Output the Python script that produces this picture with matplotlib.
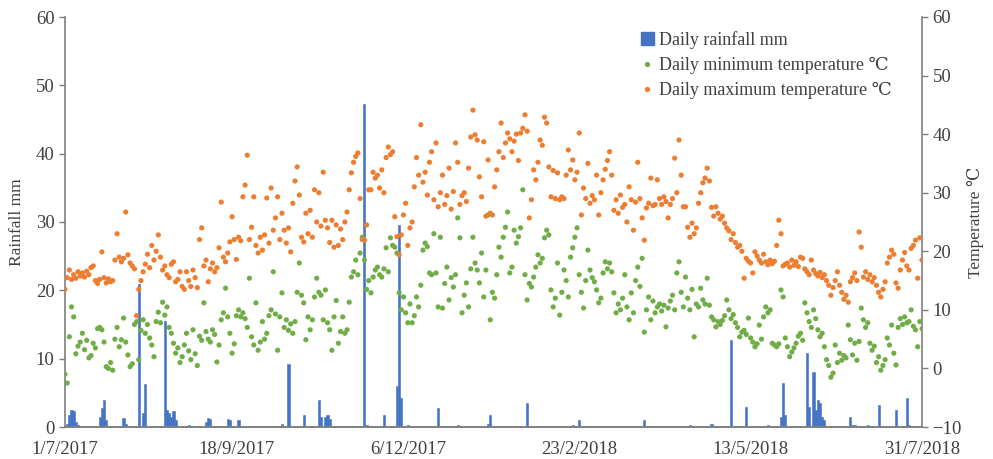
import matplotlib
matplotlib.use("Agg")
import matplotlib.pyplot as plt
import numpy as np
import pandas as pd
from matplotlib.lines import Line2D
from matplotlib.patches import Patch

# ---- data -------------------------------------------------------------
start_date = "2017-07-01"

# daily maximum temperature (deg C), one value per day from 1 Jul 2017
tmax = [
    13.5, 15.5, 16.8, 15.2, 16.0, 15.4, 16.5, 15.8, 16.3, 15.6,
    16.6, 16.0, 17.2, 17.5, 15.0, 14.5, 15.2, 19.9, 15.5, 14.6,
    15.3, 14.8, 15.0, 18.5, 23.0, 19.0, 18.2, 18.8, 26.7, 19.4,
    18.0, 17.5, 17.0, 9.0, 13.5, 15.0, 16.5, 17.8, 19.5, 17.2,
    21.0, 18.5, 20.0, 22.8, 19.0, 16.8, 17.5, 16.0, 15.5, 17.8,
    18.2, 14.8, 15.2, 16.5, 14.0, 13.5, 16.5, 15.0, 14.0, 16.8,
    15.5, 13.8, 22.0, 24.0, 17.5, 18.5, 14.8, 17.0, 18.0, 16.5,
    17.2, 20.6, 28.4, 19.0, 18.2, 19.7, 21.6, 25.9, 22.0, 18.6,
    22.4, 21.8, 29.3, 31.3, 36.4, 22.0, 24.1, 29.3, 21.0, 19.7,
    22.4, 20.2, 22.8, 29.1, 21.4, 30.8, 23.6, 25.7, 29.3, 22.0,
    26.5, 23.6, 21.4, 24.0, 19.9, 28.2, 32.0, 34.4, 29.6, 22.4,
    21.6, 26.5, 23.0, 27.0, 22.4, 30.5, 25.0, 30.0, 24.3, 33.5,
    25.3, 24.0, 21.5, 25.3, 20.7, 24.5, 21.0, 23.8, 22.0, 25.0,
    26.7, 30.5, 33.4, 35.2, 36.2, 36.8, 29.0, 22.0, 21.9, 24.5,
    30.5, 30.5, 33.5, 32.5, 33.0, 30.8, 33.9, 30.0, 36.0, 37.8,
    36.5, 37.0, 25.9, 22.5, 19.4, 22.8, 26.2, 28.2, 21.0, 24.0,
    25.0, 31.0, 36.0, 33.0, 41.6, 31.8, 33.5, 29.6, 35.2, 37.0,
    28.8, 38.5, 27.6, 30.0, 33.0, 28.0, 29.5, 34.2, 27.2, 30.2,
    38.5, 35.2, 28.0, 29.5, 30.0, 28.5, 34.2, 39.5, 44.1, 39.9,
    39.0, 32.7, 29.3, 38.7, 26.0, 35.6, 26.5, 26.2, 31.0, 33.9,
    37.0, 41.9, 36.0, 38.5, 40.2, 39.2, 37.0, 38.8, 40.0, 35.5,
    40.2, 41.0, 43.3, 40.5, 25.7, 28.8, 33.9, 32.2, 35.2, 39.0,
    38.1, 42.9, 41.9, 34.4, 29.3, 33.8, 29.0, 33.4, 28.8, 29.3,
    29.0, 33.0, 37.3, 33.9, 35.6, 32.2, 33.5, 40.2, 26.2, 30.8,
    29.0, 35.0, 28.2, 29.5, 28.8, 33.0, 26.2, 30.0, 32.2, 34.0,
    35.5, 37.0, 33.0, 27.0, 28.8, 26.5, 29.6, 27.5, 28.0, 25.0,
    31.0, 28.8, 23.6, 28.4, 35.2, 29.0, 25.7, 21.9, 27.4, 28.2,
    32.5, 27.8, 28.0, 32.2, 29.0, 28.0, 29.3, 28.5, 25.7, 28.0,
    29.0, 35.9, 30.0, 39.0, 33.0, 27.6, 27.6, 24.1, 22.4, 24.8,
    23.0, 24.0, 28.2, 30.0, 31.7, 32.5, 34.2, 32.0, 27.5, 26.0,
    27.6, 26.5, 25.5, 26.0, 24.8, 24.0, 23.5, 22.0, 23.0, 21.5,
    20.7, 21.0, 20.0, 15.4, 18.8, 18.3, 18.0, 16.3, 19.9, 19.2,
    18.5, 18.0, 19.5, 18.2, 17.7, 18.5, 17.9, 18.3, 21.0, 25.3,
    23.0, 17.5, 17.8, 18.0, 17.3, 18.5, 17.6, 18.2, 17.4, 19.0,
    18.8, 17.0, 16.5, 16.0, 18.5, 16.8, 16.2, 15.8, 16.4, 15.5,
    16.0, 15.0, 14.2, 12.5, 13.8, 15.0, 16.5, 14.2, 13.0, 11.8,
    12.5, 11.3, 14.8, 15.5, 16.3, 15.0, 23.3, 20.7, 15.6, 16.5,
    15.2, 16.0, 14.8, 15.5, 14.2, 13.0, 12.2, 13.5, 14.8, 18.0,
    19.0, 20.2, 19.5, 14.6, 13.7, 16.8, 18.5, 19.8, 17.5, 16.8,
    20.5, 21.0, 21.9, 15.4, 22.3, 18.5,
]

# daily minimum temperature (deg C)
tmin = [
    -1.0, -2.5, 5.4, 10.5, 8.8, 2.5, 3.8, 4.5, 6.0, 3.2,
    4.8, 1.8, 2.2, 4.3, 3.5, 6.8, 7.0, 6.6, 4.5, 0.3,
    0.0, 1.0, -0.3, 5.0, 7.0, 3.7, 4.9, 8.6, 4.5, 2.3,
    0.3, 0.8, 7.5, 8.0, 1.5, 6.5, 8.3, 6.0, 7.5, 5.2,
    4.0, 2.0, 8.0, 9.6, 7.8, 11.3, 9.1, 10.5, 7.0, 6.0,
    4.3, 2.6, 3.5, 1.0, 2.0, 4.0, 6.0, 3.0, 1.5, 6.6,
    2.5, 0.5, 5.5, 4.8, 11.2, 6.3, 5.0, 4.5, 6.6, 5.8,
    1.1, 4.0, 8.3, 9.5, 13.7, 8.8, 6.0, 2.6, 4.2, 9.0,
    10.0, 8.8, 9.5, 8.5, 7.0, 15.4, 5.4, 4.0, 11.2, 3.1,
    4.5, 8.0, 5.0, 6.0, 9.0, 10.0, 16.5, 9.3, 3.1, 8.8,
    12.9, 7.0, 8.3, 6.5, 7.6, 6.0, 8.0, 13.0, 18.0, 12.5,
    11.2, 4.9, 8.8, 6.6, 8.3, 12.2, 15.4, 13.0, 12.5, 8.3,
    13.4, 7.8, 6.6, 3.1, 8.8, 11.6, 4.3, 6.3, 8.8, 6.0,
    6.6, 11.3, 15.6, 16.5, 18.5, 16.0, 19.7, 22.4, 18.5, 13.5,
    15.0, 12.9, 15.6, 16.8, 17.3, 16.0, 15.6, 17.0, 20.6, 16.5,
    22.3, 21.0, 20.7, 19.7, 12.9, 10.0, 12.2, 9.5, 7.8, 11.0,
    7.8, 9.0, 12.2, 10.5, 14.2, 20.2, 21.4, 20.8, 16.3, 16.0,
    23.0, 16.3, 10.5, 22.4, 10.3, 14.5, 17.3, 11.7, 15.5, 13.9,
    16.0, 25.7, 22.3, 9.5, 12.5, 14.6, 10.5, 17.0, 22.4, 18.0,
    16.8, 14.6, 19.7, 12.2, 16.8, 26.2, 8.3, 13.0, 12.0, 16.0,
    20.7, 19.0, 22.4, 24.1, 26.7, 16.3, 17.3, 23.6, 21.4, 22.5,
    24.0, 30.5, 16.0, 11.7, 14.5, 13.9, 15.6, 17.3, 19.4, 18.0,
    18.8, 22.3, 23.6, 22.8, 13.4, 10.5, 12.0, 18.0, 9.1, 13.0,
    16.8, 15.0, 12.2, 19.0, 20.6, 22.4, 24.0, 16.0, 13.0, 10.3,
    15.0, 20.2, 16.8, 15.5, 14.8, 13.4, 11.2, 12.0, 16.3, 18.2,
    17.0, 18.0, 16.5, 12.9, 9.5, 11.0, 10.0, 12.0, 16.0, 10.5,
    8.3, 12.9, 9.5, 15.0, 17.3, 14.0, 18.8, 6.2, 10.0, 12.2,
    8.3, 11.5, 9.5, 10.5, 11.0, 9.8, 10.8, 7.1, 10.3, 11.5,
    12.5, 10.0, 16.3, 18.2, 13.0, 10.5, 15.6, 12.0, 10.0, 13.5,
    5.4, 11.0, 10.5, 13.7, 11.7, 11.0, 15.4, 10.8, 8.8, 8.3,
    7.1, 8.0, 7.5, 8.2, 9.0, 11.7, 10.0, 8.5, 9.2, 7.8,
    7.0, 5.4, 6.2, 6.5, 5.8, 8.6, 5.2, 4.5, 3.7, 4.2,
    7.4, 5.0, 8.8, 10.5, 9.5, 10.0, 4.3, 4.0, 3.7, 4.2,
    13.4, 12.2, 5.2, 3.7, 2.0, 2.8, 3.5, 4.3, 5.5, 6.0,
    4.8, 11.2, 9.5, 8.0, 7.0, 10.0, 8.5, 6.6, 5.4, 6.0,
    3.7, 1.5, 0.5, -1.5, -0.8, 4.0, 1.0, 2.6, 1.4, 2.2,
    1.8, 7.4, 4.9, 2.3, 4.3, 1.4, 4.6, 10.3, 8.3, 7.0,
    7.8, 4.3, 3.1, 3.8, 1.0, 2.0, -0.3, 0.5, 1.5, 5.2,
    4.0, 7.4, 2.6, 0.6, 7.0, 8.5, 7.5, 8.8, 7.8, 8.0,
    10.0, 7.2, 6.6, 3.7, 8.0, 6.8,
]

# rain days (day number counted from 1 Jul 2017) and daily rainfall (mm)
rain_day = [1, 2, 3, 4, 5, 6, 7, 16, 17, 18, 19, 27, 28, 34, 36, 37,
            46, 47, 48, 49, 50, 51, 57, 65, 66, 67, 75, 76, 80, 100, 103,
            110, 117, 118, 120, 121, 122, 138, 139, 147, 153, 154, 155,
            158, 172, 181, 195, 196, 204, 213, 234, 237, 267, 288, 298,
            307, 314, 324, 330, 331, 332, 342, 343, 345, 346, 347, 348,
            349, 350, 362, 363, 364, 370, 375, 383, 388, 389]
rain_mm = [0.5, 1.8, 2.5, 2.3, 0.8, 0.3, 0.2, 1.5, 2.8, 4.0, 1.0, 1.3, 0.5,
           21.0, 2.0, 6.3, 15.5, 2.5, 2.0, 1.5, 2.3, 1.0, 0.3, 0.8, 1.3,
           1.2, 1.2, 1.0, 1.0, 0.5, 9.2, 1.7, 4.0, 1.5, 1.5, 1.8, 1.2,
           47.3, 0.3, 1.7, 6.0, 29.6, 4.3, 0.3, 2.8, 0.3, 0.5, 1.7, 0.2,
           3.5, 0.3, 1.0, 1.0, 0.3, 0.5, 12.8, 3.0, 0.3, 1.5, 6.4, 1.8,
           10.8, 3.0, 8.0, 2.5, 4.0, 3.5, 1.5, 1.0, 1.5, 0.3, 0.3, 0.3,
           3.2, 2.5, 4.2, 0.3]

tick_dates = ["2017-07-01", "2017-09-18", "2017-12-06",
              "2018-02-23", "2018-05-13", "2018-07-31"]
tick_labels = ["1/7/2017", "18/9/2017", "6/12/2017",
               "23/2/2018", "13/5/2018", "31/7/2018"]

# ---- styling ----------------------------------------------------------
BLUE = "#4472C4"
GREEN = "#70AD47"
ORANGE = "#ED7D31"
AXIS_GREY = "#7F7F7F"
TEXT = "#404040"
FONT = ["Liberation Serif", "DejaVu Serif"]
TICK_SIZE = 13.5

plt.rcParams["font.family"] = FONT
plt.rcParams["font.size"] = TICK_SIZE

days = pd.date_range(start_date, periods=len(tmax), freq="D")
rain_dates = days[rain_day]

fig = plt.figure(figsize=(9.93, 4.59), dpi=100)
ax = fig.add_axes([65 / 993, 32 / 459, 857 / 993, 410 / 459])
ax2 = ax.twinx()

ax.bar(rain_dates, rain_mm, width=1.0, color=BLUE, edgecolor=BLUE,
       linewidth=0.4, zorder=2)

ax2.scatter(days, tmin, s=14, color=GREEN, edgecolors="none", zorder=3)
ax2.scatter(days, tmax, s=14, color=ORANGE, edgecolors="none", zorder=3)

ax.set_xlim(pd.Timestamp(tick_dates[0]), pd.Timestamp(tick_dates[-1]))
ax.set_ylim(0, 60)
ax2.set_ylim(-10, 60)
ax.set_yticks(np.arange(0, 61, 10))
ax2.set_yticks(np.arange(-10, 61, 10))
ax.set_xticks(pd.to_datetime(tick_dates))
ax.set_xticklabels(tick_labels)

for a in (ax, ax2):
    a.spines["top"].set_visible(False)
    for s in ("left", "right", "bottom"):
        a.spines[s].set_color(AXIS_GREY)
        a.spines[s].set_linewidth(1.2)
    a.tick_params(axis="y", colors=AXIS_GREY, labelcolor=TEXT,
                  length=4, width=1.0, labelsize=TICK_SIZE)
ax.tick_params(axis="x", length=0, labelcolor=TEXT, labelsize=TICK_SIZE,
               pad=10)
ax2.spines["left"].set_visible(False)
ax.spines["right"].set_visible(False)

ax.set_ylabel("Rainfall mm", color=TEXT, fontsize=12.5, labelpad=8)
ax2.set_ylabel("Temperature \u2103", color=TEXT, fontsize=12.5, labelpad=4)

handles = [
    Patch(facecolor=BLUE, edgecolor=BLUE),
    Line2D([], [], marker="o", linestyle="none", markersize=3.8,
           markerfacecolor=GREEN, markeredgecolor="none"),
    Line2D([], [], marker="o", linestyle="none", markersize=3.8,
           markerfacecolor=ORANGE, markeredgecolor="none"),
]
labels = ["Daily rainfall mm",
          "Daily minimum temperature \u2103",
          "Daily maximum temperature \u2103"]
leg = ax2.legend(handles, labels, loc="upper left",
                 bbox_to_anchor=(632 / 993, 1 - 22 / 459),
                 bbox_transform=fig.transFigure, frameon=False,
                 fontsize=13, handlelength=0.7, handleheight=0.7,
                 handletextpad=0.3, labelspacing=0.45, borderpad=0)
for t in leg.get_texts():
    t.set_color(TEXT)

fig.savefig("out.png", dpi=100)
